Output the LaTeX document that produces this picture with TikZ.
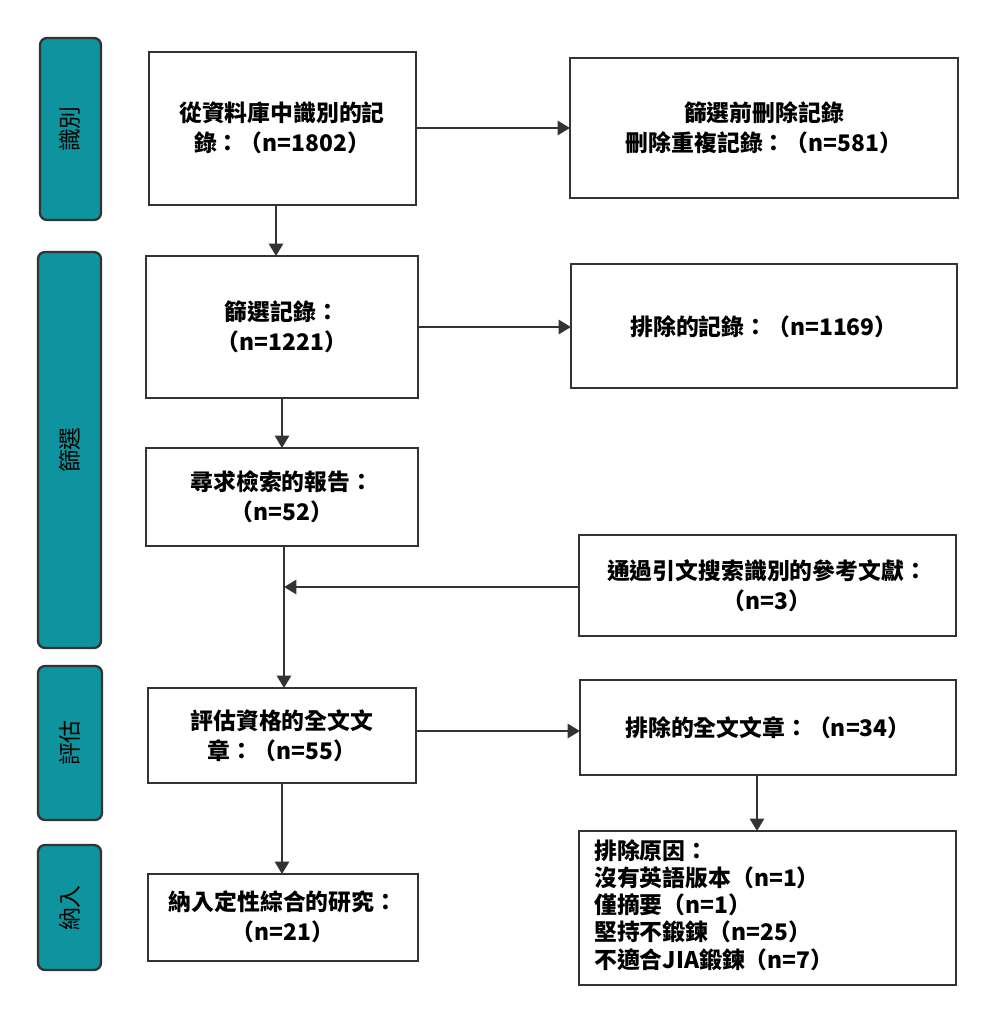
\documentclass[tikz,border=0pt]{standalone}
\usepackage{fontspec}
\setmainfont{Liberation Serif}
\newfontfamily\cjk{Noto Sans CJK TC}
\usetikzlibrary{arrows.meta}
\definecolor{stagefill}{HTML}{0E949E}
\definecolor{linegray}{HTML}{333333}
\begin{document}
\begin{tikzpicture}[x=0.02cm,y=-0.02cm]
	\tikzstyle{stage}=[draw=linegray,line width=1.3pt,fill=stagefill,rounded corners=4pt]
	\tikzstyle{box}=[draw=linegray,line width=1.3pt]
	\tikzstyle{txt}=[font=\cjk\bfseries\fontsize{13}{17}\selectfont,align=center,text=black]
	\tikzstyle{flow}=[draw=linegray,line width=1.3pt,-{Triangle[length=7pt,width=8pt]}]
	\useasboundingbox (0,0) rectangle (996,1022);
	% stage bars
	\draw[stage] (40,38) rectangle (101,220);
	\draw[stage] (38,252) rectangle (101,648);
	\draw[stage] (38,666) rectangle (102,820);
	\draw[stage] (38,845) rectangle (101,970);
	\node[txt,rotate=90,font=\cjk\fontsize{13}{15}\selectfont] at (70,129) {識別};
	\node[txt,rotate=90,font=\cjk\fontsize{13}{15}\selectfont] at (70,450) {篩選};
	\node[txt,rotate=90,font=\cjk\fontsize{13}{15}\selectfont] at (70,743) {評估};
	\node[txt,rotate=90,font=\cjk\fontsize{13}{15}\selectfont] at (70,908) {納入};
	% boxes
	\draw[box] (149,52) rectangle (416,205);
	\draw[box] (570,58) rectangle (958,198);
	\draw[box] (146,256) rectangle (418,398);
	\draw[box] (571,264) rectangle (957,388);
	\draw[box] (146,448) rectangle (418,546);
	\draw[box] (579,535) rectangle (956,636);
	\draw[box] (148,688) rectangle (416,783);
	\draw[box] (580,680) rectangle (956,775);
	\draw[box] (148,874) rectangle (418,961);
	\draw[box] (579,831) rectangle (956,985);
	% texts
	\node[txt] (ident) at (282,128) {從資料庫中識別的記\\錄：（n=1802）};
	\node[txt] (dup) at (764,128) {篩選前刪除記錄\\刪除重複記錄：（n=581）};
	\node[txt] (screen) at (282,327) {篩選記錄：\\（n=1221）};
	\node[txt] (excl) at (764,327) {排除的記錄：（n=1169）};
	\node[txt] (sought) at (282,497) {尋求檢索的報告：\\（n=52）};
	\node[txt] (cite) at (767,586) {通過引文搜索識別的參考文獻：\\（n=3）};
	\node[txt] (elig) at (282,736) {評估資格的全文文\\章：（n=55）};
	\node[txt] (fullx) at (768,728) {排除的全文文章：（n=34）};
	\node[txt] (incl) at (283,917) {納入定性綜合的研究：\\（n=21）};
	\node[txt,align=left,anchor=north west,font=\cjk\bfseries\fontsize{13}{15.5}\selectfont] (reason) at (588,833) {排除原因：\\沒有英語版本（n=1）\\僅摘要（n=1）\\堅持不鍛鍊（n=25）\\不適合JIA鍛鍊（n=7）};
	% connectors
	\coordinate (aR) at (416,128); \coordinate (bL) at (570,128);
	\coordinate (aB) at (276,205); \coordinate (cT) at (276,256);
	\coordinate (cR) at (418,327); \coordinate (dL) at (571,327);
	\coordinate (cB) at (282,398); \coordinate (eT) at (282,448);
	\coordinate (eB) at (284,546); \coordinate (gT) at (284,688);
	\coordinate (fL) at (579,587); \coordinate (jn) at (284,587);
	\coordinate (gR) at (416,731); \coordinate (hL) at (580,731);
	\coordinate (gB) at (282,783); \coordinate (iT) at (282,874);
	\coordinate (hB) at (757,775); \coordinate (jT) at (757,831);
	\draw[flow] (aR) -- (bL);
	\draw[flow] (aB) -- (cT);
	\draw[flow] (cR) -- (dL);
	\draw[flow] (cB) -- (eT);
	\draw[flow] (eB) -- (gT);
	\draw[flow] (fL) -- (jn);
	\draw[flow] (gR) -- (hL);
	\draw[flow] (gB) -- (iT);
	\draw[flow] (hB) -- (jT);
\end{tikzpicture}
\end{document}
